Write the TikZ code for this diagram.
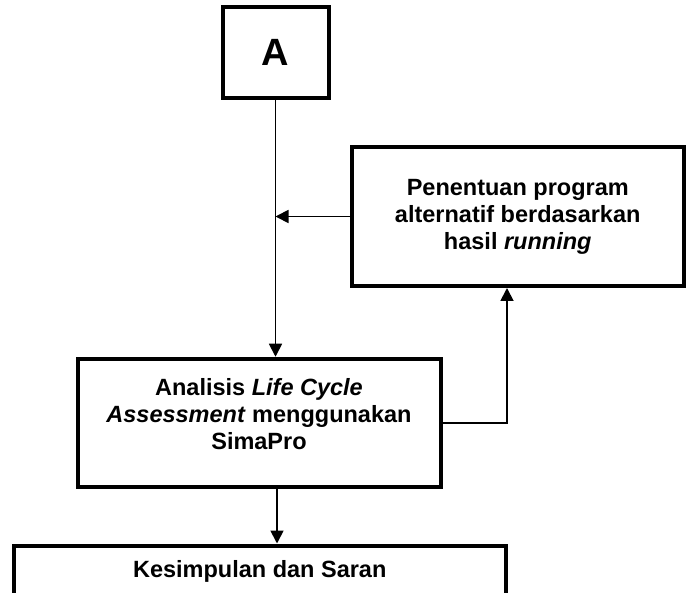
\documentclass[tikz,border=0pt]{standalone}
\usepackage{fontspec}
\setmainfont{Liberation Sans}
\usetikzlibrary{arrows.meta}
\tikzset{
  box/.style={draw=black, line width=4pt, fill=white, align=center, inner sep=2pt,
    font=\fontsize{23.5}{27}\selectfont\bfseries},
  arr/.style={line width=1.8pt, -{Triangle[length=13pt,width=13pt]}},
}
\begin{document}
\begin{tikzpicture}[x=1pt,y=-1pt]
\useasboundingbox (0,0) rectangle (688,593);
\node[box, minimum width=106pt, minimum height=91pt, font=\fontsize{38}{40}\selectfont\bfseries] (A) at (275.5,52.5) {A};
\node[box, minimum width=332.5pt, minimum height=139pt] (side) at (517.75,216.5)
  {Penentuan program\\alternatif berdasarkan\\hasil \textit{running}};
\node[box, minimum width=363pt, minimum height=128.5pt] (main) at (259,423)
  {Analisis \textit{Life Cycle}\\\textit{Assessment} menggunakan\\SimaPro\\[-9pt]{}};
\node[box, minimum width=491.5pt, minimum height=52pt] (bottom) at (259.75,571.5)
  {Kesimpulan dan Saran};
\draw[arr] (A.south) -- (A.south |- main.north);
\draw[arr] (side.west) -- (side.west -| A.south);
\draw[arr] (main.east) -| ([xshift=-10.75pt]side.south);
\draw[arr] (main.south -| 277,0) -- (bottom.north -| 277,0);
\end{tikzpicture}
\end{document}
